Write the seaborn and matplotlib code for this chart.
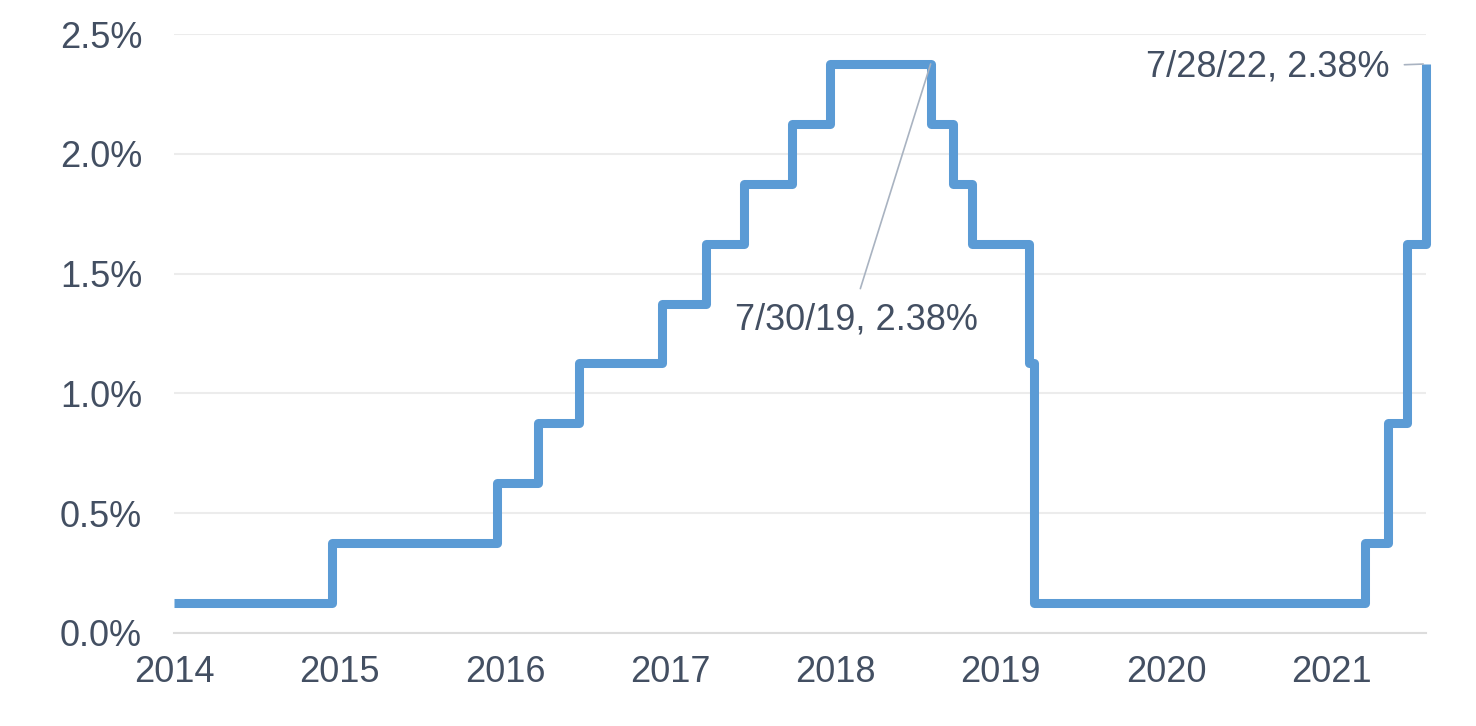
import pandas as pd
import seaborn as sns
import matplotlib.pyplot as plt
import matplotlib.dates as mdates

# fed funds target range midpoint, by date of change (%)
change_dates = ["2015-01-01", "2015-12-16", "2016-12-14", "2017-03-15", "2017-06-14",
                "2017-12-13", "2018-03-21", "2018-06-13", "2018-09-26", "2018-12-19",
                "2019-07-31", "2019-09-18", "2019-10-30", "2020-03-03", "2020-03-15",
                "2022-03-16", "2022-05-04", "2022-06-15", "2022-07-27", "2022-07-28"]
midpoint = [0.125, 0.375, 0.625, 0.875, 1.125,
            1.375, 1.625, 1.875, 2.125, 2.375,
            2.125, 1.875, 1.625, 1.125, 0.125,
            0.375, 0.875, 1.625, 2.375, 2.375]

# x axis tick positions and the labels shown on the chart
tick_dates = ["2015-01-01", "2016-01-01", "2017-01-01", "2018-01-01",
              "2019-01-01", "2020-01-01", "2021-01-01", "2022-01-01"]
tick_labels = ["2014", "2015", "2016", "2017", "2018", "2019", "2020", "2021"]
y_ticks = [0.0, 0.5, 1.0, 1.5, 2.0, 2.5]

callouts = [("2019-07-30", 2.375, "7/30/19, 2.38%"),
            ("2022-07-28", 2.375, "7/28/22, 2.38%")]

df = pd.DataFrame({"date": pd.to_datetime(change_dates), "rate": midpoint})

sns.set_style("white")
plt.rcParams["font.family"] = ["Liberation Sans", "DejaVu Sans"]
text_col = "#434f62"

fig = plt.figure(figsize=(14.76, 7.26), dpi=100)
ax = fig.add_axes([174 / 1476, 1 - 633 / 726, (1426 - 174) / 1476, (633 - 34) / 726])

sns.lineplot(data=df, x="date", y="rate", ax=ax, color="#5b9bd5", linewidth=6.5,
             drawstyle="steps-post", solid_joinstyle="round", solid_capstyle="butt",
             clip_on=False, zorder=3)

ax.set_xlim(df["date"].iloc[0], df["date"].iloc[-1])
ax.set_ylim(0, 2.5)
ax.set_xticks(pd.to_datetime(tick_dates))
ax.set_xticklabels(tick_labels)
ax.set_yticks(y_ticks)
ax.set_yticklabels([f"{v:.1f}%" for v in y_ticks])
ax.set_xlabel("")
ax.set_ylabel("")

ax.grid(axis="y", color="#ececec", linewidth=1.5)
ax.grid(axis="x", visible=False)
for s in ["top", "right", "left"]:
    ax.spines[s].set_visible(False)
ax.spines["bottom"].set_color("#dcdcdc")
ax.spines["bottom"].set_linewidth(1.5)
ax.tick_params(axis="y", length=0, pad=23, labelsize=26, labelcolor=text_col)
ax.tick_params(axis="x", length=0, pad=16, labelsize=26, labelcolor=text_col)

# first callout: text below the peak, thin leader line up to the point
d0, v0, t0 = callouts[0]
ax.annotate(t0, xy=(mdates.date2num(pd.Timestamp(d0)), v0), xycoords="data",
            xytext=((856 - 174) / 1252, (633 - 320) / 599), textcoords="axes fraction",
            ha="center", va="center", fontsize=26, color=text_col,
            arrowprops=dict(arrowstyle="-", color="#a9b3c1", lw=1.2,
                            relpos=(0.5, 1.0), shrinkA=8, shrinkB=0))

# second callout: text left of the last point
d1, v1, t1 = callouts[1]
ax.annotate(t1, xy=(mdates.date2num(pd.Timestamp(d1)), v1), xycoords="data",
            xytext=((1390 - 174) / 1252, (633 - 67) / 599), textcoords="axes fraction",
            ha="right", va="center", fontsize=26, color=text_col,
            arrowprops=dict(arrowstyle="-", color="#a9b3c1", lw=1.2,
                            relpos=(1.0, 0.55), shrinkA=8, shrinkB=2))

fig.savefig("out.png", dpi=100)
